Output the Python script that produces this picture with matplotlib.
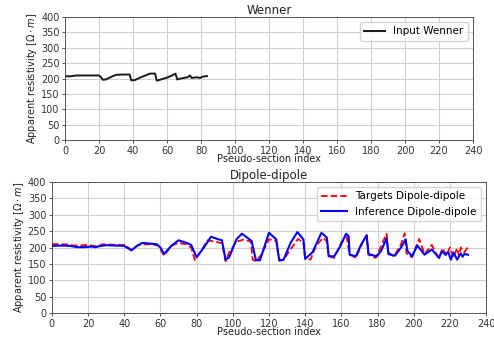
import matplotlib
matplotlib.use("Agg")
import matplotlib.pyplot as plt

# Wenner input data (pseudo-section index, apparent resistivity)
wenner_x = [0, 3, 6.5, 12, 20, 21, 22.3, 24, 27, 30, 34, 38, 39, 41, 45, 50, 53, 54, 57, 60, 63, 65, 66, 68, 70, 72, 73.5, 74.5, 76, 77.5, 79.5, 81, 83.5]
wenner_v = [208, 207, 210, 210, 210, 205, 196, 197, 205, 212, 213, 213, 194, 195, 205, 216, 216, 193, 198, 203, 210, 216, 197, 200, 202, 204, 210, 202, 203, 204, 202, 206, 208]

# Dipole-dipole targets
tgt_x = [0, 5, 10, 12, 17, 20, 22, 25, 28, 32, 36, 40, 44, 48, 52, 56, 59, 62, 66, 70, 74, 77, 79, 82, 86, 90, 94, 96, 98, 102, 106, 110, 111, 113, 116, 120, 124, 125.5, 128, 132, 136, 139, 140, 143, 146, 150, 152, 153, 156, 160, 163, 164.5, 168, 172, 174, 175, 179, 182, 185, 186, 189, 193, 195, 196, 199, 202, 203, 206, 210, 212, 214, 216, 218, 220, 222, 224, 225, 226, 228, 230]
tgt_v = [211, 210, 209, 206, 207, 208, 206, 203, 210, 209, 208, 208, 193, 208, 210, 209, 205, 175, 205, 214, 210, 200, 162, 185, 222, 218, 213, 158, 185, 218, 224, 218, 163, 158, 180, 225, 220, 163, 162, 195, 226, 216, 168, 163, 205, 230, 218, 175, 168, 215, 232, 180, 168, 218, 238, 178, 168, 205, 242, 185, 172, 210, 243, 182, 170, 212, 226, 180, 208, 185, 168, 198, 175, 200, 170, 198, 175, 200, 185, 202]

# Dipole-dipole inference
inf_x = [0, 5, 10, 14, 18, 22, 24, 27, 30, 35, 40, 44, 47, 50, 54, 58, 60, 62, 66, 70, 74, 77, 80, 84, 88, 92, 94, 96, 98, 102, 105, 108, 110.4, 112.8, 115, 120, 124, 125.7, 128, 132, 135.7, 139, 140, 144, 149, 152, 153, 156, 159, 162.6, 164, 164.6, 168, 171, 174, 175, 179.5, 182, 185, 186, 189.6, 193, 195.5, 196.5, 199, 202, 206, 210, 214, 215.6, 217.5, 219, 220.5, 222, 224, 226, 227, 228, 230]
inf_v = [205, 206, 205, 201, 201, 203, 201, 205, 207, 206, 205, 191, 205, 214, 212, 210, 200, 180, 205, 222, 215, 208, 170, 200, 233, 225, 222, 163, 170, 225, 242, 230, 220, 161, 161, 245, 225, 160, 162, 215, 247, 225, 165, 185, 245, 230, 173, 173, 200, 242, 235, 178, 173, 210, 237, 180, 173, 190, 228, 180, 175, 200, 225, 190, 173, 206, 178, 194, 168, 189, 178, 187, 163, 185, 163, 182, 172, 180, 178]

xticks = list(range(0, 241, 20))
yticks = list(range(0, 401, 50))

fig = plt.figure(figsize=(4.94, 3.40), dpi=100)
ax1 = fig.add_axes([0.1316, 0.588, 0.826, 0.362])
ax2 = fig.add_axes([0.105, 0.0794, 0.879, 0.3853])

fs = 7
for ax in (ax1, ax2):
    ax.set_xlim(0, 240)
    ax.set_ylim(0, 400)
    ax.set_xticks(xticks)
    ax.set_yticks(yticks)
    ax.grid(True, color="#d0d0d0", linewidth=0.8)
    ax.set_axisbelow(True)
    ax.tick_params(labelsize=fs, length=2.5, width=0.6, pad=1.5, colors="#333333")
    for s in ax.spines.values():
        s.set_color("#555555")
        s.set_linewidth(0.7)
    ax.set_xlabel("Pseudo-section index", fontsize=fs, labelpad=-1, color="#222222")
    ax.set_ylabel(r"Apparent resistivity [$\Omega \cdot m$]", fontsize=fs, labelpad=1, color="#222222")

ax1.plot(wenner_x, wenner_v, color="#1a1a1a", linewidth=1.4, label="Input Wenner")
ax1.set_title("Wenner", fontsize=8.5, pad=2, color="#222222")
ax1.legend(loc="upper right", fontsize=7.5, frameon=True, fancybox=True, handlelength=2)

ax2.plot(tgt_x, tgt_v, color="red", linestyle="--", linewidth=1.3, label="Targets Dipole-dipole", zorder=2)
ax2.plot(inf_x, inf_v, color="blue", linewidth=1.5, label="Inference Dipole-dipole", zorder=3)
ax2.set_title("Dipole-dipole", fontsize=8.5, pad=2, color="#222222")
ax2.legend(loc="upper right", fontsize=7.5, frameon=True, fancybox=True, handlelength=2.5)

fig.savefig("out.png", dpi=100)
